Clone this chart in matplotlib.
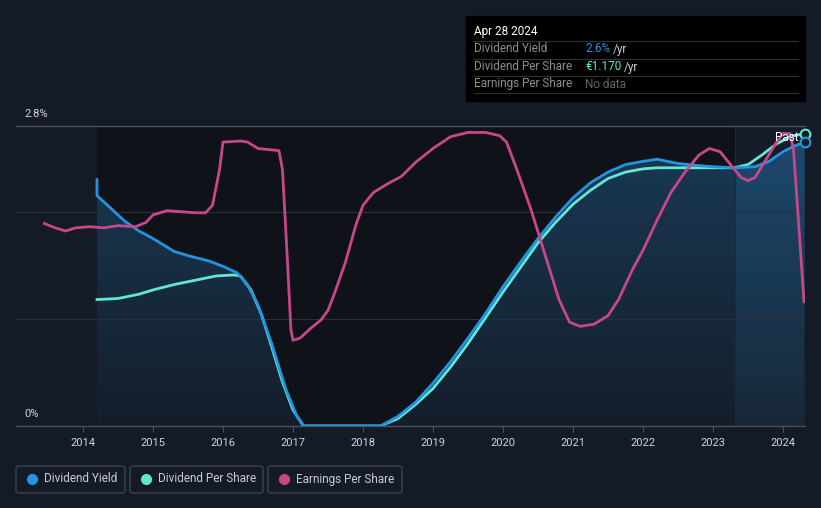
import matplotlib.pyplot as plt
import numpy as np
from matplotlib.patches import FancyBboxPatch, Rectangle
from matplotlib.colors import LinearSegmentedColormap

plt.rcParams['font.family'] = ['Roboto', 'DejaVu Sans']

# Dividend yield (%)
dy_x = [2014.2, 2014.2, 2014.4, 2014.6, 2014.8, 2015.0, 2015.3, 2015.5, 2015.8, 2016.0,
        2016.2, 2016.35, 2016.5, 2016.7, 2016.9, 2017.05, 2017.15, 2018.25, 2018.5, 2018.75,
        2019.0, 2019.25, 2019.5, 2019.75, 2020.0, 2020.25, 2020.5, 2020.75, 2021.0, 2021.25,
        2021.5, 2021.75, 2022.0, 2022.2, 2022.5, 2022.8, 2023.0, 2023.3, 2023.6, 2023.8,
        2024.0, 2024.15, 2024.31]
dy_y = [2.30, 2.15, 2.03, 1.91, 1.82, 1.75, 1.63, 1.59, 1.54, 1.49,
        1.43, 1.32, 1.13, 0.76, 0.34, 0.10, 0.0, 0.0, 0.09, 0.22,
        0.40, 0.60, 0.82, 1.05, 1.30, 1.53, 1.75, 1.95, 2.13, 2.27,
        2.37, 2.44, 2.47, 2.49, 2.45, 2.43, 2.42, 2.41, 2.42, 2.47,
        2.56, 2.61, 2.65]

# Dividend per share (scaled to chart)
dps_x = [2014.2, 2014.5, 2014.8, 2015.0, 2015.3, 2015.6, 2015.9, 2016.15, 2016.25, 2016.4,
         2016.55, 2016.7, 2016.85, 2017.0, 2017.15, 2018.25, 2018.5, 2018.75, 2019.0, 2019.25,
         2019.5, 2019.75, 2020.0, 2020.25, 2020.5, 2020.75, 2021.0, 2021.25, 2021.5, 2021.75,
         2022.0, 2022.2, 2023.3, 2023.5, 2023.7, 2023.9, 2024.1, 2024.31]
dps_y = [1.18, 1.19, 1.23, 1.27, 1.32, 1.36, 1.40, 1.41, 1.40, 1.27,
         1.04, 0.73, 0.41, 0.15, 0.0, 0.0, 0.07, 0.20, 0.35, 0.55,
         0.77, 1.01, 1.25, 1.48, 1.71, 1.90, 2.07, 2.20, 2.31, 2.37,
         2.40, 2.41, 2.41, 2.44, 2.53, 2.63, 2.70, 2.73]

# Earnings per share (scaled to chart)
eps_x = [2013.45, 2013.6, 2013.75, 2013.9, 2014.1, 2014.3, 2014.5, 2014.75, 2014.9, 2015.0,
         2015.2, 2015.4, 2015.6, 2015.75, 2015.85, 2015.95, 2016.0, 2016.25, 2016.35, 2016.5,
         2016.65, 2016.8, 2016.85, 2016.92, 2016.97, 2017.0, 2017.1, 2017.25, 2017.4, 2017.5,
         2017.6, 2017.75, 2017.9, 2018.0, 2018.15, 2018.35, 2018.55, 2018.75, 2019.0, 2019.25,
         2019.5, 2019.75, 2019.95, 2020.05, 2020.2, 2020.4, 2020.6, 2020.8, 2020.95, 2021.1,
         2021.3, 2021.5, 2021.65, 2021.85, 2022.0, 2022.2, 2022.4, 2022.6, 2022.8, 2022.95,
         2023.1, 2023.25, 2023.4, 2023.5, 2023.6, 2023.75, 2023.9, 2024.0, 2024.1, 2024.15,
         2024.22, 2024.3]
eps_y = [1.89, 1.85, 1.82, 1.85, 1.86, 1.85, 1.87, 1.86, 1.90, 1.97,
         2.01, 2.00, 1.99, 1.99, 2.06, 2.39, 2.65, 2.66, 2.65, 2.59,
         2.58, 2.57, 2.39, 1.55, 0.90, 0.80, 0.82, 0.91, 0.99, 1.08,
         1.25, 1.53, 1.88, 2.06, 2.18, 2.26, 2.33, 2.46, 2.59, 2.70,
         2.74, 2.74, 2.71, 2.65, 2.39, 2.02, 1.60, 1.18, 0.97, 0.93,
         0.95, 1.03, 1.18, 1.46, 1.64, 1.92, 2.18, 2.37, 2.53, 2.59,
         2.56, 2.44, 2.32, 2.29, 2.32, 2.48, 2.64, 2.73, 2.73, 2.58,
         1.92, 1.16]

years = list(range(2014, 2025))
past_start = 2023.31

BG = '#151b26'
BLUE = '#2394df'
TEAL = '#62e6d6'
PINK = '#c8478a'

fig = plt.figure(figsize=(8.21, 5.08), dpi=100, facecolor=BG)
ax = fig.add_axes([16 / 821, 1 - 426 / 508, (805 - 16) / 821, 300 / 508])
ax.set_facecolor(BG)
x0, x1 = 2013.043, 2024.314
ax.set_xlim(x0, x1)
ax.set_ylim(0, 2.8)

# darker span over data period, lighter past span
ax.axvspan(dy_x[0], past_start, color='#0f1319', zorder=0, lw=0)
ax.axvspan(past_start, x1, color='#131c28', zorder=0, lw=0)

# gradient fill under dividend yield
grad = np.linspace(0, 1, 256).reshape(-1, 1)
fill = ax.fill_between(dy_x, dy_y, 0, color='none', lw=0)
im = ax.imshow(grad, extent=[dy_x[0], past_start, 0, 2.8], origin='lower', aspect='auto',
               cmap=LinearSegmentedColormap.from_list('g', ['#141e2b', '#1a3a56']), zorder=1)
im.set_clip_path(fill.get_paths()[0], transform=ax.transData)
im2 = ax.imshow(grad, extent=[past_start, x1, 0, 2.8], origin='lower', aspect='auto',
                cmap=LinearSegmentedColormap.from_list('g2', ['#172838', '#1d4b70']), zorder=1)
im2.set_clip_path(fill.get_paths()[0], transform=ax.transData)
ax.axvline(past_start, color='#1f2a38', lw=0.8, zorder=1)

for v in [1.0, 2.0]:
    ax.axhline(v, color='#2a303a', lw=0.8, zorder=1)
ax.axhline(2.8, color='#4a5059', lw=1.0, zorder=1, clip_on=False)
ax.axhline(0, color='#4a5059', lw=1.0, zorder=1, clip_on=False)

ax.plot(dps_x, dps_y, color=TEAL, lw=2, zorder=3, solid_joinstyle='round')
ax.plot(dy_x, dy_y, color=BLUE, lw=2, zorder=3, solid_joinstyle='round')
ax.plot(eps_x, eps_y, color=PINK, lw=2, zorder=4, solid_joinstyle='round')
ax.plot(dps_x[-1], dps_y[-1], 'o', ms=7, mfc=BG, mec=TEAL, mew=1.5, zorder=6, clip_on=False)
ax.plot(dy_x[-1], dy_y[-1], 'o', ms=7, mfc=BG, mec=BLUE, mew=1.5, zorder=6, clip_on=False)
ax.text(2024.22, 2.69, 'Past', color='white', fontsize=8.5, ha='right', va='center', zorder=7)

for s in ax.spines.values():
    s.set_visible(False)
ax.set_yticks([])
ax.set_xticks(years)
ax.set_xticklabels([str(y) for y in years], color='#d0d3d8', fontsize=8)
ax.tick_params(axis='x', length=4, color='#4a5059', pad=5)

fig.text(24 / 821, 1 - 114 / 508, '2.8%', color='#d0d3d8', fontsize=8, va='center')
fig.text(24 / 821, 1 - 414 / 508, '0%', color='#d0d3d8', fontsize=8, va='center')

# tooltip box
fig.patches.append(Rectangle((466 / 821, 1 - 101 / 508), 339 / 821, 85 / 508,
                             transform=fig.transFigure, color='#000000', zorder=5))
fig.text(474 / 821, 1 - 31 / 508, 'Apr 28 2024', color='white', fontsize=8.5, va='center', zorder=6)
rows = [('Dividend Yield', '2.6%', BLUE, 49), ('Dividend Per Share', '€1.170', TEAL, 67),
        ('Earnings Per Share', 'No data', '#5f646c', 84)]
for ly in [41, 59, 76, 93]:
    fig.add_artist(plt.Line2D([474 / 821, 798 / 821], [1 - ly / 508] * 2, color='#2e3136',
                              lw=0.8, transform=fig.transFigure, zorder=6))
for lab, val, col, yy in rows:
    fig.text(474 / 821, 1 - yy / 508, lab, color='#8a8f96', fontsize=8.5, va='center', zorder=7)
    t = fig.text(585 / 821, 1 - yy / 508, val, color=col, fontsize=8.5, va='center', zorder=7)
    if val != 'No data':
        fig.canvas.draw()
        bb = t.get_window_extent()
        fig.text(bb.x1 / 821 + 3 / 821, 1 - yy / 508, '/yr', color='#c9ccd1', fontsize=8.5,
                 va='center', zorder=7)

# legend boxes
legend = [('Dividend Yield', BLUE, 16, 125), ('Dividend Per Share', TEAL, 130, 263),
          ('Earnings Per Share', PINK, 268, 402)]
for lab, col, xa, xb in legend:
    fig.patches.append(FancyBboxPatch((xa / 821, 1 - 493 / 508), (xb - xa) / 821, 27 / 508,
                                      boxstyle='round,pad=0,rounding_size=0.004',
                                      transform=fig.transFigure, fc=BG, ec='#3c424b', lw=1))
    fig.add_artist(plt.Line2D([(xa + 16) / 821], [1 - 479 / 508], marker='o', ms=7, color=col,
                              transform=fig.transFigure, lw=0))
    fig.text((xa + 28) / 821, 1 - 479 / 508, lab, color='#c9ccd1', fontsize=8.5, va='center')

fig.savefig('out.png', dpi=100, facecolor=BG)
